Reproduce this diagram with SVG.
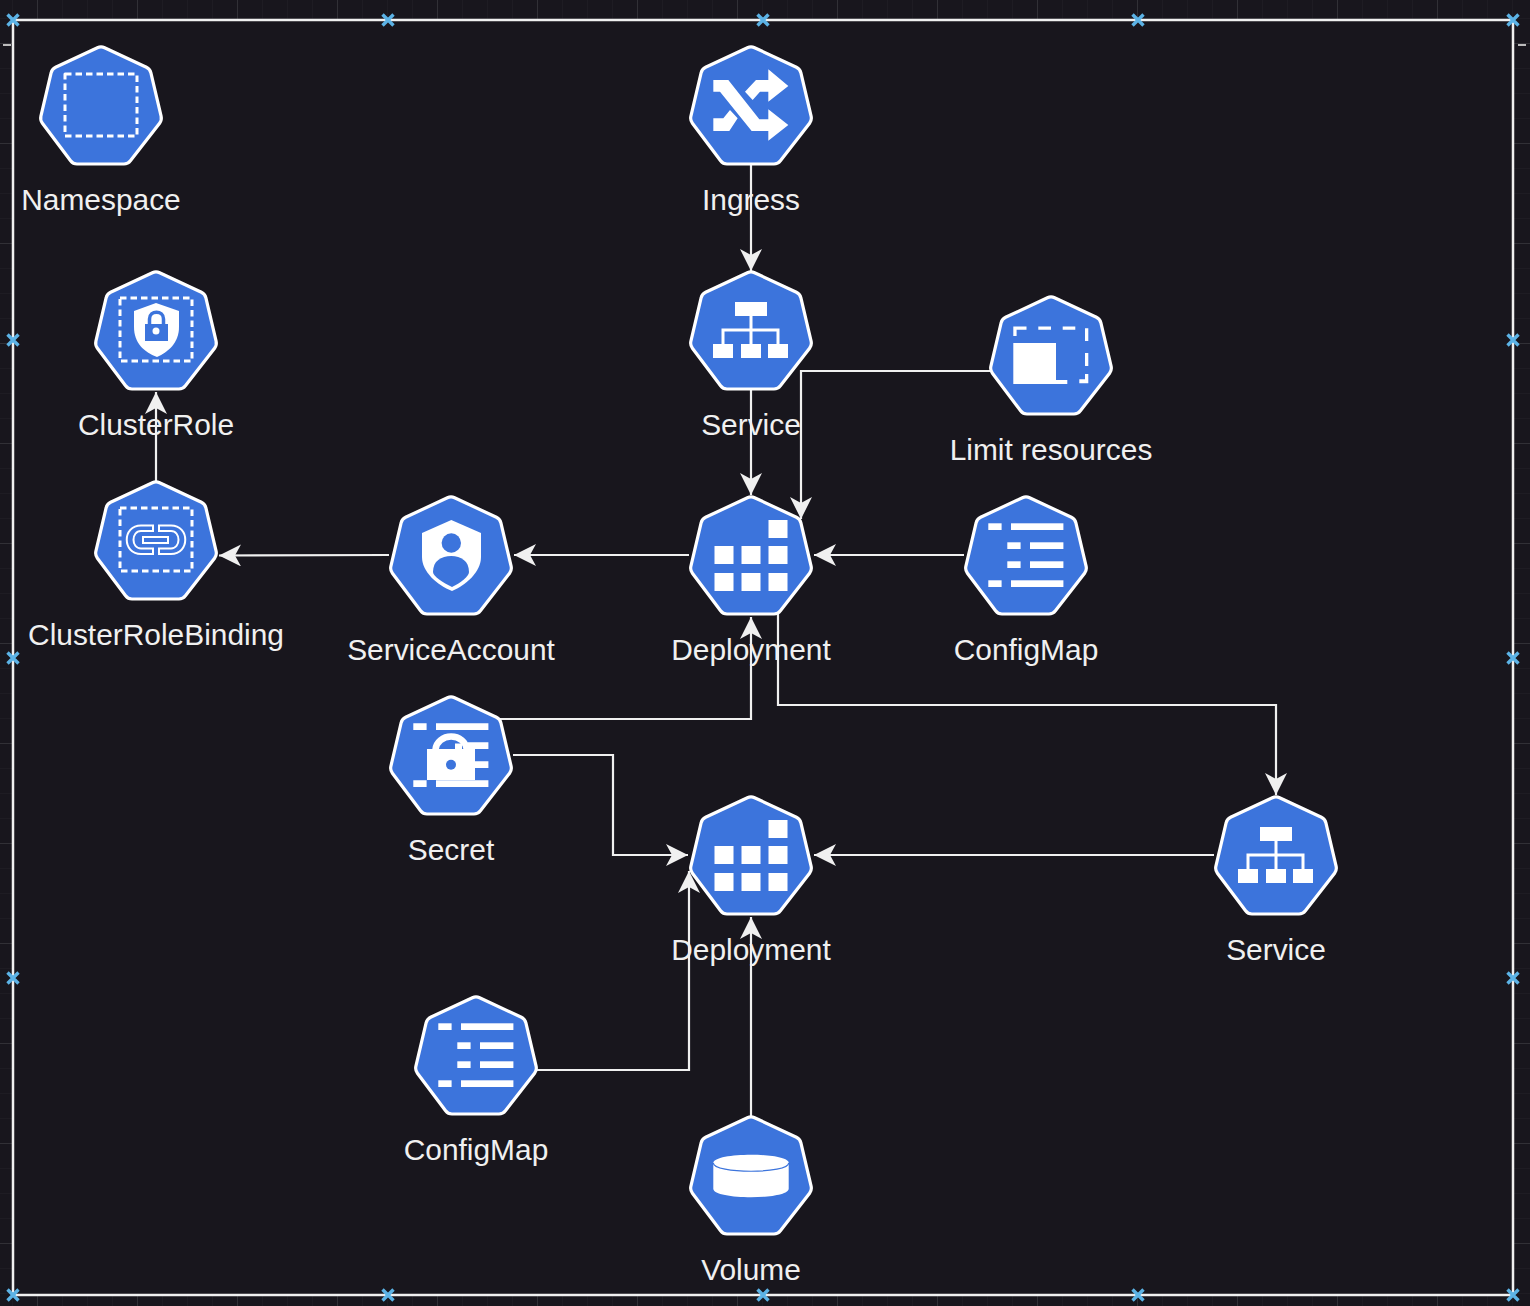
<svg xmlns="http://www.w3.org/2000/svg" width="1530" height="1306" viewBox="0 0 1530 1306">
<style>
text{font-family:"Liberation Sans",Arial,sans-serif;font-size:29.9px;fill:#f0f0f0;text-anchor:middle}
.e{fill:none;stroke:#f0f0f0;stroke-width:2.2;marker-end:url(#a)}
.h{fill:#3c74dc;stroke:#fff;stroke-width:3.2;stroke-linejoin:round}
.w{fill:#fff}
.d{fill:none;stroke:#fff;stroke-width:3;stroke-dasharray:6.5 4;stroke-linejoin:round}
.x{stroke:#5cb3e6;stroke-width:3.4;fill:none}
</style>
<defs>
<marker id="a" markerUnits="userSpaceOnUse" markerWidth="24" markerHeight="24" refX="22" refY="11" orient="auto"><path d="M0 0L22 11L0 22L6 11Z" fill="#f0f0f0"/></marker>
<path id="hex" class="h" d="M-3.600 1.700Q0 0 3.600 1.700L45.400 21.300Q49 23 49.900 26.900L60.100 70.100Q61 74 58.600 77.200L29.400 114.800Q27 118 23 118H-24Q-28 118-30.400 114.800L-58.600 77.200Q-61 74-60.100 70.100L-49.900 26.900Q-49 23-45.400 21.300Z"/>
<g id="dep" class="w"><rect x="17.500" y="24" width="19" height="18"/><rect x="-36.500" y="50" width="19" height="18"/><rect x="-9.500" y="50" width="19" height="18"/><rect x="17.500" y="50" width="19" height="18"/><rect x="-36.500" y="77" width="19" height="18"/><rect x="-9.500" y="77" width="19" height="18"/><rect x="17.500" y="77" width="19" height="18"/></g>
<g id="svc"><path class="w" d="M-16 31H16V45H-16ZM-38 73H-18V87H-38ZM-10 73H10V87H-10ZM17 73H37V87H17Z"/><path d="M0 45V73M-28 73V59H27V73" fill="none" stroke="#fff" stroke-width="3"/></g>
<g id="cm" class="w"><rect x="-37.700" y="27.300" width="13.300" height="6.700"/><rect x="-15" y="27.300" width="52.400" height="6.700"/><rect x="-18.700" y="46.300" width="13.300" height="6.700"/><rect x="4" y="46.300" width="33.400" height="6.700"/><rect x="-18.700" y="65.300" width="13.300" height="6.700"/><rect x="4" y="65.300" width="33.400" height="6.700"/><rect x="-37.700" y="84.300" width="13.300" height="6.700"/><rect x="-15" y="84.300" width="52.400" height="6.700"/></g>
<path id="hd" class="x" d="M-5.500 -5.500L5.500 5.500M5.500 -5.500L-5.500 5.500"/>
<pattern id="gm" width="25" height="25" patternUnits="userSpaceOnUse" x="12" y="18"><path d="M0 0V25M0 0H25" stroke="#23222a" stroke-width="1" fill="none"/></pattern>
<pattern id="gM" width="100" height="100" patternUnits="userSpaceOnUse" x="37" y="43"><path d="M0 0V100M0 0H100" stroke="#44434a" stroke-width="1" fill="none"/></pattern>
</defs>
<rect width="1530" height="1306" fill="#18161d"/>
<rect width="1530" height="1306" fill="url(#gm)"/>
<rect width="1530" height="1306" fill="url(#gM)"/>
<g fill="#bbb"><rect x="3" y="44" width="8" height="2"/><rect x="1518" y="44" width="8" height="2"/></g>
<rect id="frame" x="13" y="20" width="1500" height="1275" fill="#18161d" stroke="#f0f0f0" stroke-width="2.500"/>
<g id="connectors">
<path class="e" d="M751 165V271"/>
<path class="e" d="M751 390V495"/>
<path class="e" d="M990 371H801V519"/>
<path class="e" d="M964 555H814"/>
<path class="e" d="M689 555H514"/>
<path class="e" d="M389 555L219 555.500"/>
<path class="e" d="M156 481V392"/>
<path class="e" d="M500 719H751V617"/>
<path class="e" d="M778 614V705H1276V795"/>
<path class="e" d="M513 755H613V855H688"/>
<path class="e" d="M1214 855H814"/>
<path class="e" d="M537 1070H689V871"/>
<path class="e" d="M751 1116V917"/>
</g>
<g id="namespace" transform="translate(101 46)"><use href="#hex"/><rect class="d" x="-36" y="28" width="72" height="62"/></g>
<text x="101" y="210">Namespace</text>
<g id="ingress" transform="translate(751 46)"><use href="#hex"/><path class="w" transform="translate(-81 -16) scale(.3333)" d="M130 150H175L268 268H295V238L355 285L295 332V303H245L150 185H130ZM295 118L355 168L295 215V185H270L248 210L225 185L258 150H295ZM130 265H160L180 240L203 265L178 303H130Z"/></g>
<text x="751" y="210">Ingress</text>
<g id="service" transform="translate(751 271)"><use href="#hex"/><use href="#svc"/></g>
<text x="751" y="435">Service</text>
<g id="limit-resources" transform="translate(1051 296)"><use href="#hex"/><path class="w" d="M-37.700 47H5V88H-37.700Z"/><path class="w" d="M-37.700 30.500H-24.500V33.800H-34.400V40H-37.700ZM-12.700 30.500H0V33.800H-12.700ZM11.700 30.500H24.300V33.800H11.700ZM34 32.300H37.300V45H34ZM34 57H37.300V70H34ZM28.300 83.300H34V78H37.300V87.300H28.300ZM5 84H16.300V88H5Z"/></g>
<text x="1051" y="460">Limit resources</text>
<g id="clusterrole" transform="translate(156 271)"><use href="#hex"/><rect class="d" x="-36" y="27" width="72" height="63"/><path class="w" d="M0 32L23 40V56C23 72 12 81 1 86C-12 81-22 72-22 56V40Z"/><rect x="-11" y="53" width="23" height="17" fill="#3c74dc"/><path d="M-6.500 53V48C-6.500 39 7.500 39 7.500 48V53" fill="none" stroke="#3c74dc" stroke-width="3.500"/><circle cx="0" cy="60" r="3.500" fill="#fff"/></g>
<text x="156" y="435">ClusterRole</text>
<g id="clusterrolebinding" transform="translate(156 481)"><use href="#hex"/><rect class="d" x="-36" y="27" width="72" height="63"/><g fill="none" stroke="#fff" stroke-width="2"><path d="M-3 44.500H-15C-34 44.500-34 73-15 73H-3V67.500H-15C-25 67.500-25 50-15 50H-3Z"/><path d="M3 44.500H15C34 44.500 34 73 15 73H3V67.500H15C25 67.500 25 50 15 50H3Z"/><rect x="-13" y="56" width="25" height="6"/></g></g>
<text x="156" y="645">ClusterRoleBinding</text>
<g id="serviceaccount" transform="translate(451 496)"><use href="#hex"/><path class="w" d="M0.300 24L30 37V61C30 76 15 89 1 95C-14 89-29 76-29 61V37Z"/><circle cx="0.300" cy="47" r="9.700" fill="#3c74dc"/><path d="M0.300 60C-10 60-18 65-18 76C-18 80-8 87 1 91C10 87 18 80 18 76C18 65 10 60 0.300 60Z" fill="#3c74dc"/></g>
<text x="451" y="660">ServiceAccount</text>
<g id="deployment" transform="translate(751 496)"><use href="#hex"/><use href="#dep"/></g>
<text x="751" y="660">Deployment</text>
<g id="configmap" transform="translate(1026 496)"><use href="#hex"/><use href="#cm"/></g>
<text x="1026" y="660">ConfigMap</text>
<g id="secret" transform="translate(451 696)"><use href="#hex"/><path class="w" d="M-37.700 27.300H-24.400V34H-37.700ZM-15 27.300H37.400V34H-15ZM17 46.300H37.400V53H17ZM24 65.300H37.400V72H24ZM-37.700 84.300H-24.400V91H-37.700ZM-15 84.300H37.400V91H-15Z"/><path d="M-15.500 53.500A15.700 14 0 0 1 15.800 53.500" fill="none" stroke="#fff" stroke-width="6.500"/><rect class="w" x="4" y="47.500" width="7" height="6"/><rect class="w" x="-24" y="53" width="48" height="31"/><circle cx="0" cy="68.700" r="5" fill="#3c74dc"/></g>
<text x="451" y="860">Secret</text>
<g id="deployment-2" transform="translate(751 796)"><use href="#hex"/><use href="#dep"/></g>
<text x="751" y="960">Deployment</text>
<g id="service-2" transform="translate(1276 796)"><use href="#hex"/><use href="#svc"/></g>
<text x="1276" y="960">Service</text>
<g id="configmap-2" transform="translate(476 996)"><use href="#hex"/><use href="#cm"/></g>
<text x="476" y="1160">ConfigMap</text>
<g id="volume" transform="translate(751 1116)"><use href="#hex"/><path class="w" d="M-37.700 47C-37.700 36 37.700 36 37.700 47V72.700C37.700 84 -37.700 84 -37.700 72.700Z"/><path d="M-37.700 47C-37.700 58 37.700 58 37.700 47" fill="none" stroke="#3c74dc" stroke-width="1.200"/></g>
<text x="751" y="1280">Volume</text>
<g id="handles">
<use href="#hd" x="13" y="20"/><use href="#hd" x="388" y="20"/><use href="#hd" x="763" y="20"/><use href="#hd" x="1138" y="20"/><use href="#hd" x="1513" y="20"/>
<use href="#hd" x="13" y="340"/><use href="#hd" x="13" y="658"/><use href="#hd" x="13" y="978"/>
<use href="#hd" x="1513" y="340"/><use href="#hd" x="1513" y="658"/><use href="#hd" x="1513" y="978"/>
<use href="#hd" x="13" y="1295"/><use href="#hd" x="388" y="1295"/><use href="#hd" x="763" y="1295"/><use href="#hd" x="1138" y="1295"/><use href="#hd" x="1513" y="1295"/>
</g>
</svg>
